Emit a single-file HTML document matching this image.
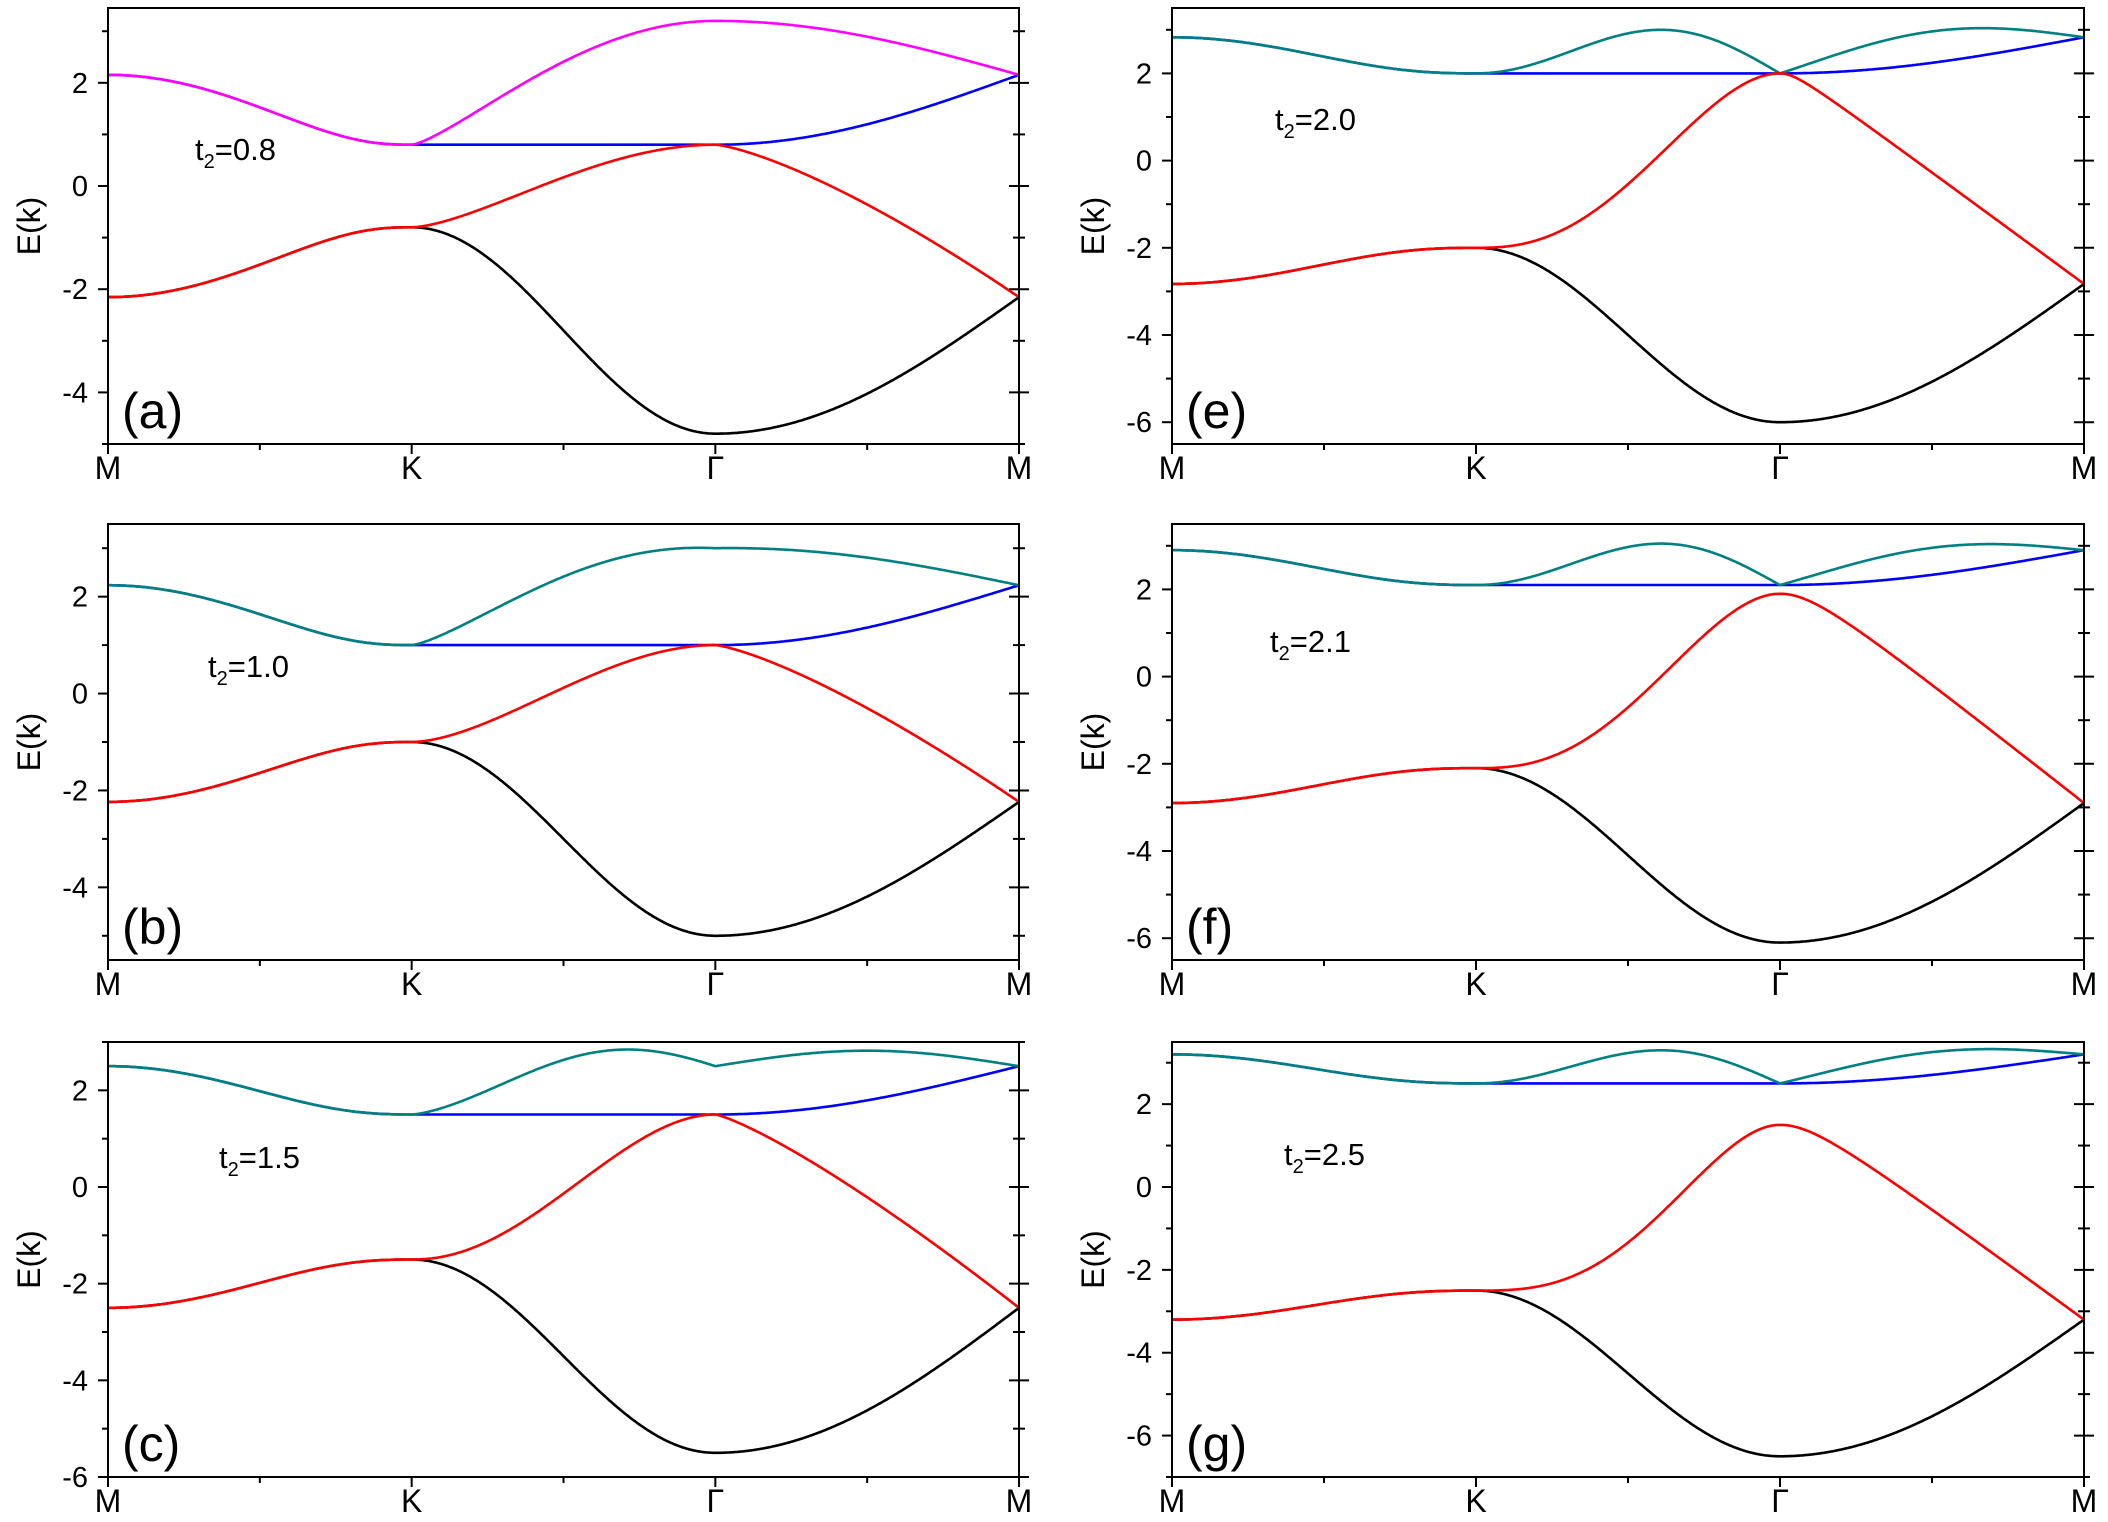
<!DOCTYPE html>
<html><head><meta charset="utf-8"><style>
html,body{margin:0;padding:0;background:#fff;}
svg{display:block;}
text{font-family:"Liberation Sans",Arial,sans-serif;fill:#000;}
</style></head><body>
<svg id="s" width="2108" height="1522" xmlns="http://www.w3.org/2000/svg"></svg>
<script>
var S=document.getElementById('s'),out='';
var panels=[
 {t:0.8,x0:108,x1:1019,y0:8,y1:444,ymin:-5,ymax:3.45,lab:'(a)',tl:[195,160],top:'#ff00ff',B2:0,B3:0},
 {t:1.0,x0:108,x1:1019,y0:524,y1:960,ymin:-5.5,ymax:3.5,lab:'(b)',tl:[208,677],top:'#008080',B2:0.08,B3:0.03},
 {t:1.5,x0:108,x1:1019,y0:1042,y1:1477,ymin:-6,ymax:3,lab:'(c)',tl:[219,1168],top:'#008080',B2:0.5,B3:0.32},
 {t:2.0,x0:1172,x1:2084,y0:8,y1:444,ymin:-6.5,ymax:3.5,lab:'(e)',tl:[1275,130],top:'#008080',B2:1.0,B3:0.72},
 {t:2.1,x0:1172,x1:2084,y0:524,y1:960,ymin:-6.5,ymax:3.5,lab:'(f)',tl:[1270,652],top:'#008080',B2:0.95,B3:0.62},
 {t:2.5,x0:1172,x1:2084,y0:1042,y1:1477,ymin:-7,ymax:3.5,lab:'(g)',tl:[1284,1165],top:'#008080',B2:0.8,B3:0.55}
];
function ss(x){return 3*x*x-2*x*x*x;}
var hmax=0;for(var i=0;i<=1000;i++){var u=i/1000;var h=Math.sin(Math.PI*u)*Math.sin(Math.PI*u/2);if(h>hmax)hmax=h;}
function bump(u){return Math.sin(Math.PI*u)*Math.sin(Math.PI*u/2)/hmax;}
function hyp(u,a){return (Math.sqrt(u*u+a*a)-a)/(Math.sqrt(1+a*a)-a);}
function bands(p,x){
 var t=p.t,s=Math.sqrt(4+t*t),rG=Math.min(t,4-t),tG=Math.max(t,4-t);
 if(x<=1){var u=x;var q=Math.pow(Math.cos(Math.PI*u/2),2.5);
  var e=Math.sqrt(t*t+(s*s-t*t)*q);return {k:-e,r:-e,b:e,tp:e};}
 if(x<=2){var u=x-1;
  var pp=0.81+(t-0.8)*0.4;
  var R=ss(Math.pow(u,pp));
  var T=ss(Math.pow(u,0.7));
  return {k:-t-4*(1-Math.cos(Math.PI*u))/2, r:-t+(rG+t)*R, b:t, tp:t+(tG-t)*T+p.B2*bump(u)};}
 var u=x-2;var g=1+2*Math.cos(Math.PI*u/2);var w=(3-g)/2;
 var bl=-4-t+(4+t-s)*w;
 var wr;
 if(t<2){wr=Math.pow(u,1.35-(t-0.8)*0.18);}
 else{var a=t>2.05?0.14:0.06;wr=hyp(u,a);}
 var r=rG+(-s-rG)*wr;
 var o=t+(s-t)*w;
 var tp=tG+(s-tG)*w+p.B3*Math.sin(Math.PI*u);
 return {k:bl,r:r,b:o,tp:tp};
}
panels.forEach(function(p){
 var X=function(x){return p.x0+(p.x1-p.x0)*x/3;};
 var Y=function(e){return p.y1-(e-p.ymin)/(p.ymax-p.ymin)*(p.y1-p.y0);};
 var keys=['b','k','tp','r'],cols={b:'#0000ff',k:'#000',tp:p.top,r:'#ff0000'};
 keys.forEach(function(k){
  var d='';for(var i=0;i<=900;i++){var x=i/300;var v=bands(p,x)[k];
   d+=(i?'L':'M')+X(x).toFixed(1)+' '+Y(v).toFixed(1);}
  out+='<path d="'+d+'" fill="none" stroke="'+cols[k]+'" stroke-width="2.6"/>';
 });
 out+='<rect x="'+p.x0+'" y="'+p.y0+'" width="'+(p.x1-p.x0)+'" height="'+(p.y1-p.y0)+'" fill="none" stroke="#000" stroke-width="2"/>';
 for(var v=Math.ceil(p.ymin);v<=p.ymax;v++){
  var y=Y(v),maj=(v%2==0),L=maj?10:6;
  out+='<line x1="'+(p.x0-L)+'" x2="'+p.x0+'" y1="'+y+'" y2="'+y+'" stroke="#000" stroke-width="2"/>';
  out+='<line x1="'+(p.x1-L)+'" x2="'+(p.x1+L)+'" y1="'+y+'" y2="'+y+'" stroke="#000" stroke-width="2"/>';
  if(maj)out+='<text x="'+(p.x0-20)+'" y="'+(y+10)+'" font-size="29" text-anchor="end">'+v+'</text>';
 }
 for(var i=0;i<=6;i++){var x=X(i/2),L=(i%2==0)?10:6;
  out+='<line x1="'+x+'" x2="'+x+'" y1="'+p.y1+'" y2="'+(p.y1+L)+'" stroke="#000" stroke-width="2"/>';}
 var ls=['M','K','\u0393','M'];
 ls.forEach(function(l,i){out+='<text x="'+X(i)+'" y="'+(p.y1+35)+'" font-size="32" text-anchor="middle"'+(l=='\u0393'?' font-family="Liberation Serif"':'')+'>'+l+'</text>';});
 var cy=(p.y0+p.y1)/2,cx=p.x0-68;
 out+='<text transform="translate('+cx+','+cy+') rotate(-90)" font-size="32" text-anchor="middle">E(k)</text>';
 out+='<text x="'+(p.x0+14)+'" y="'+(p.y1-16)+'" font-size="50">'+p.lab+'</text>';
 out+='<text x="'+p.tl[0]+'" y="'+p.tl[1]+'" font-size="31">t<tspan font-size="20" dy="8">2</tspan><tspan dy="-8">='+p.t.toFixed(1)+'</tspan></text>';
});
S.innerHTML=out;
</script>
</body></html>
